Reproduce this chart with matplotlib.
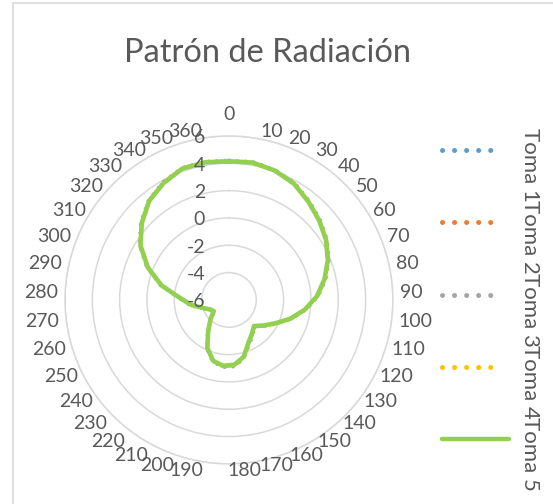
import numpy as np
import matplotlib.pyplot as plt
from matplotlib.lines import Line2D
from matplotlib.patches import Rectangle
from matplotlib.transforms import offset_copy

plt.rcParams['font.family'] = ['Lato', 'DejaVu Sans']

# Categories (degrees) and measured gain per "toma"
grados = [str(g) for g in range(0, 361, 10)]
toma1 = [4.12, 4.18, 4.05, 3.72, 3.25, 2.82, 2.33, 1.78, 1.15, 0.42, -0.42, -1.32, -2.18, -2.85, -3.3,
         -2.95, -2.55, -1.72, -1.22, -1.12, -1.42, -2.2, -3.28, -4.08, -4.6, -4.42, -4.02, -3.2, -2.38,
         -0.92, 0.45, 1.62, 2.52, 3.28, 3.82, 4.2, 4.22]
toma2 = [4.15, 4.2, 4.02, 3.75, 3.22, 2.8, 2.36, 1.82, 1.18, 0.46, -0.38, -1.28, -2.2, -2.82, -3.38,
         -3.02, -2.5, -1.68, -1.2, -1.18, -1.38, -2.18, -3.32, -4.12, -4.75, -4.45, -3.98, -3.22, -2.4,
         -0.95, 0.4, 1.58, 2.48, 3.3, 3.78, 4.18, 4.2]
toma3 = [4.22, 4.26, 4.1, 3.84, 3.34, 2.9, 2.44, 1.9, 1.26, 0.55, -0.32, -1.22, -2.1, -2.76, -3.3,
         -2.85, -2.4, -1.6, -1.1, -1.05, -1.3, -2.08, -3.2, -4.02, -4.55, -4.38, -3.92, -3.1, -2.3,
         -0.85, 0.5, 1.7, 2.6, 3.38, 3.9, 4.27, 4.28]
toma4 = [4.18, 4.22, 4.07, 3.78, 3.3, 2.85, 2.4, 1.85, 1.2, 0.5, -0.36, -1.27, -2.16, -2.8, -3.32,
         -2.95, -2.48, -1.66, -1.18, -1.12, -1.36, -2.18, -3.26, -4.06, -4.6, -4.42, -3.96, -3.16, -2.36,
         -0.9, 0.46, 1.66, 2.56, 3.34, 3.85, 4.24, 4.25]
toma5 = [4.15, 4.2, 4.05, 3.75, 3.25, 2.8, 2.35, 1.8, 1.15, 0.45, -0.4, -1.3, -2.2, -2.85, -3.35,
         -3.0, -2.55, -1.7, -1.25, -1.15, -1.4, -2.15, -3.3, -4.05, -4.62, -4.45, -4.0, -3.2, -2.4,
         -0.95, 0.4, 1.6, 2.5, 3.3, 3.8, 4.2, 4.22]
series_names = ["Toma 1", "Toma 2", "Toma 3", "Toma 4", "Toma 5"]
radial_ticks = [-6, -4, -2, 0, 2, 4, 6]

colors = ["#5B9BD5", "#ED7D31", "#A5A5A5", "#FFC000", "#92D050"]
text_color = "#595959"
grid_color = "#D9D9D9"

fig = plt.figure(figsize=(5.53, 5.04), dpi=100)

# chart border (cropped on the right and bottom)
fig.add_artist(Rectangle((12.5 / 553, -0.1), 2, 1.1 - 3.5 / 504, transform=fig.transFigure,
                         fill=False, edgecolor=grid_color, lw=1.2))

ax = fig.add_axes([0.1175, 0.0794, 0.593, 0.651], projection='polar')
ax.set_theta_zero_location('N')
ax.set_theta_direction(-1)

n = len(grados)
theta = np.arange(n) * 2 * np.pi / n
theta_closed = np.append(theta, theta[0])

for vals, col, name in zip([toma1, toma2, toma3, toma4], colors[:4], series_names[:4]):
    v = np.append(vals, vals[0])
    ax.plot(theta_closed, v, color=col, lw=2.6, linestyle=(0, (0.01, 2.3)),
            dash_capstyle='round', label=name)
v5 = np.append(toma5, toma5[0])
ax.plot(theta_closed, v5, color=colors[4], lw=3.3, solid_joinstyle='round', label=series_names[4])

ax.set_ylim(-6, 6)
ax.set_yticks(radial_ticks)
ax.set_yticklabels([])
ax.yaxis.grid(True, color=grid_color, lw=1.1)
ax.xaxis.grid(False)
ax.spines['polar'].set_color(grid_color)
ax.spines['polar'].set_linewidth(1.1)
ax.set_xticks(theta)
ax.set_xticklabels([])

# category labels placed the way Excel does it (box pushed outside the ring)
renderer = fig.canvas.get_renderer()
for k, lab in enumerate(grados):
    s, c = np.sin(theta[k]), np.cos(theta[k])
    t = ax.text(theta[k], 6, lab, ha='center', va='center', fontsize=14, color=text_color)
    w = t.get_window_extent(renderer).width
    ex = np.sign(s) * 12 * np.clip((c - 0.6) / 0.4, 0, 1)
    if s < 0:
        ex -= 27 * np.clip((-c - 0.55) / 0.45, 0, 1) ** 1.2
    ey = -14 * np.clip((c - 0.99) / 0.01, 0, 1)
    t.set_transform(offset_copy(ax.transData, fig=fig, x=s * (7 + w / 2) + ex, y=7 * c - ey,
                                units='dots'))

lab_tr = offset_copy(ax.transData, fig=fig, x=-24, y=-2, units='dots')
for r in radial_ticks:
    ax.text(0, r, str(r), transform=lab_tr, ha='right', va='center', color=text_color, fontsize=14)

fig.text(268 / 553, 1 - 62 / 504, "Patrón de Radiación", ha='center', va='baseline',
         color=text_color, fontsize=23.5)

# legend: vertical, text rotated
for i, (name, col) in enumerate(zip(series_names, colors)):
    y = 1 - (150 + i * 72.3) / 504
    if i < 4:
        ln = Line2D([441.7 / 553, 501.7 / 553], [y, y], transform=fig.transFigure, color=col, lw=3.6,
                    linestyle=(0, (0.01, 2.4)), dash_capstyle='round')
    else:
        ln = Line2D([442 / 553, 509 / 553], [y, y], transform=fig.transFigure, color=col, lw=3.2,
                    solid_capstyle='round')
    fig.add_artist(ln)
    fig.text(530 / 553, 1 - (128 + i * 72.3) / 504, name, rotation=-90, ha='center', va='top',
             color=text_color, fontsize=16)

fig.savefig("out.png", dpi=100)
